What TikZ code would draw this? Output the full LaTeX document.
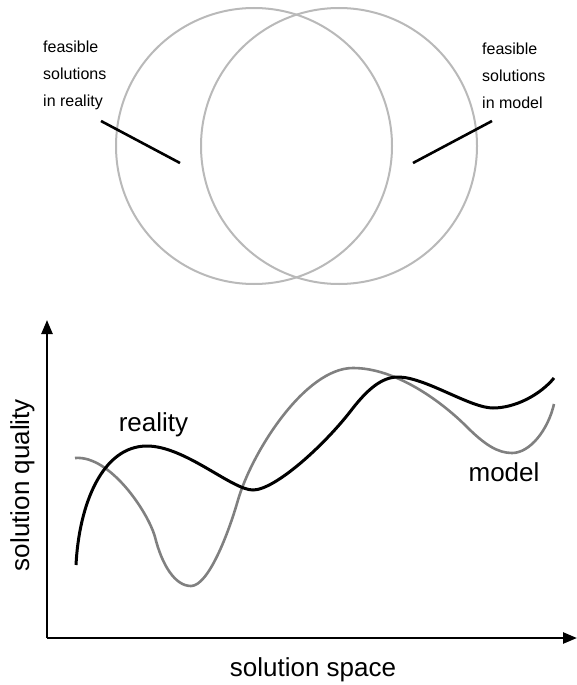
\documentclass[tikz,border=0pt]{standalone}
\usepackage{fontspec}
\setmainfont{Liberation Sans}
\usetikzlibrary{arrows.meta}

\begin{document}
\begin{tikzpicture}[x=1pt, y=-1pt,
  set/.style={draw=gray!55, line width=2pt},
  lead/.style={draw=black, line width=2.6pt},
  small/.style={font=\fontsize{16}{27}\selectfont, align=left, inner sep=0pt},
  big/.style={font=\fontsize{26}{30}\selectfont, inner sep=0pt},
  axis/.style={line width=2.5pt, -{Triangle[length=14pt,width=11pt]}},
  real/.style={draw=black, line width=3pt},
  modl/.style={draw=gray, line width=2.6pt}
]
  \useasboundingbox (0,0) rectangle (577,685);

  % the two sets of feasible solutions
  \draw[set] (254,146) circle[radius=138pt];
  \draw[set] (339,146) circle[radius=138pt];

  \node[small, anchor=base west] (treal) at (43,106) {feasible\\solutions\\in reality};
  \node[small, anchor=base west] (tmodel) at (482,108) {feasible\\solutions\\in model};
  \coordinate (lr1) at (101,121);
  \coordinate (lr2) at (180,163);
  \coordinate (lm1) at (492,121);
  \coordinate (lm2) at (413,163);
  \draw[lead] (lr1) -- (lr2);
  \draw[lead] (lm1) -- (lm2);

  % quality over the solution space
  \coordinate (O) at (47,638);
  \coordinate (ytip) at (47,320);
  \coordinate (xtip) at (577,638);
  \draw[axis] (O) -- (ytip);
  \draw[axis] (O) -- (xtip);

  \draw[modl] (75,458) .. controls (110,455) and (148,512) .. (155,537)
    .. controls (162,565) and (175,586) .. (191,586)
    .. controls (208,586) and (228,535) .. (238,500)
    .. controls (252,452) and (305,368) .. (353,368)
    .. controls (395,368) and (440,400) .. (467,427)
    .. controls (485,445) and (498,453) .. (512,453)
    .. controls (530,453) and (548,430) .. (554,404);
  \draw[real] (76,565) .. controls (79,505) and (102,446) .. (147,446)
    .. controls (185,446) and (232,490) .. (253,490)
    .. controls (275,490) and (325,445) .. (353,408)
    .. controls (368,389) and (382,377) .. (398,377)
    .. controls (425,377) and (470,408) .. (493,408)
    .. controls (515,408) and (540,395) .. (554,378);

  \node[big, anchor=base] (lreal) at (153.5,431) {reality};
  \node[big, anchor=base] (lmodel) at (504,481) {model};
  \node[big, anchor=base] (lspace) at (313,676) {solution space};
  \node[big, anchor=base, rotate=90] (lquality) at (29,485) {solution quality};
\end{tikzpicture}
\end{document}
